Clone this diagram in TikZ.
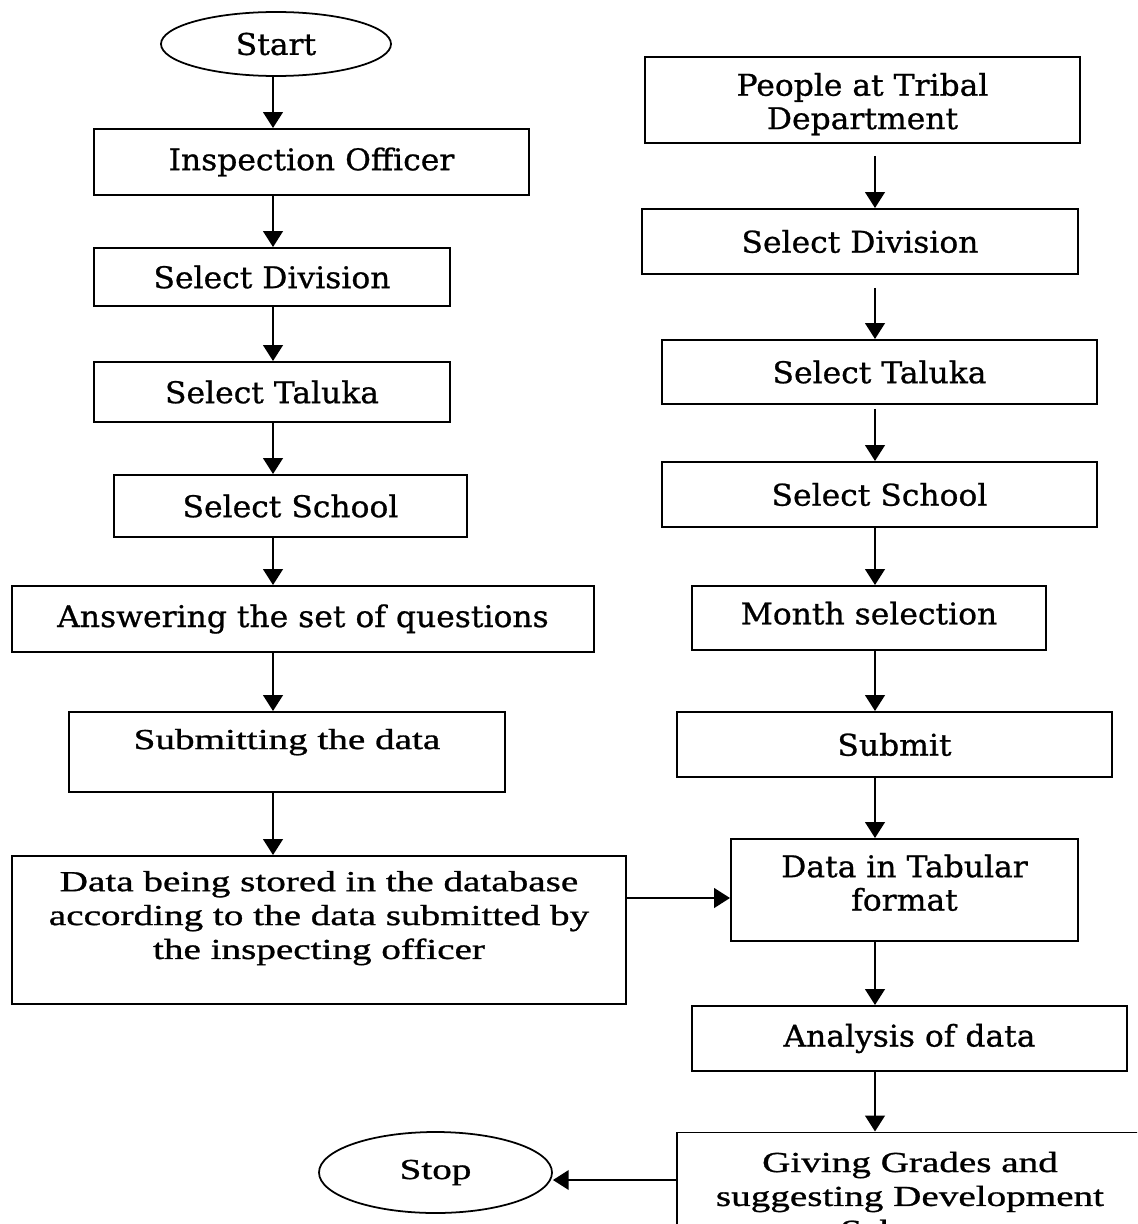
\documentclass[tikz,border=0pt]{standalone}
\usepackage{fontspec}
\usetikzlibrary{arrows.meta,shapes.geometric}
\newfontfamily\schfont{DejaVu Serif}[FakeStretch=1.05, FakeBold=0.8]
\newfontfamily\tmsfont{Liberation Serif}[FakeStretch=1.35, FakeBold=1.0]

\tikzset{
    box/.style={draw, line width=1.1pt, rectangle, align=center, inner sep=2pt},
    oval/.style={draw, line width=1pt, ellipse, inner sep=0pt},
    sch/.style={font=\schfont\fontsize{17}{19}\selectfont},
    tms/.style={font=\tmsfont\fontsize{16.5}{19.3}\selectfont},
    arr/.style={line width=1.5pt, -{Triangle[width=11pt,length=9pt]}}
}

\begin{document}
\begin{tikzpicture}
    \useasboundingbox (0,0) rectangle (22.74,-24.48);
    \clip (0,0) rectangle (22.74,-24.48);
    \coordinate (colL) at (5.46,0);
    \coordinate (colR) at (17.5,0);
    \coordinate (rowT) at (0,-17.96);
    \coordinate (rowS) at (0,-23.6);

    % inspection officer side
    \node[oval, sch, minimum width=4.6cm, minimum height=1.28cm] (start) at (5.52,-0.88) {Start};
    \node[box, sch, minimum width=8.7cm, minimum height=1.32cm] (insp) at (6.23,-3.24) {Inspection Officer};
    \node[box, sch, minimum width=7.12cm, minimum height=1.16cm] (ldiv) at (5.44,-5.54) {Select Division};
    \node[box, sch, minimum width=7.12cm, minimum height=1.2cm] (ltal) at (5.44,-7.84) {Select Taluka};
    \node[box, sch, minimum width=7.06cm, minimum height=1.24cm] (lsch) at (5.81,-10.12) {Select School};
    \node[box, sch, minimum width=11.64cm, minimum height=1.32cm] (ans) at (6.06,-12.38) {Answering the set of questions};
    \node[box, tms, text depth=0.52cm, minimum width=8.72cm, minimum height=1.6cm] (subm) at (5.74,-15.04) {Submitting the data};
    \node[box, tms, minimum width=12.28cm, minimum height=2.96cm] (store) at (6.38,-18.6)
        {Data being stored in the database\\according to the data submitted by\\the inspecting officer\rule[-0.6cm]{0pt}{0.1pt}};

    % tribal department side
    \node[box, sch, minimum width=8.7cm, minimum height=1.72cm] (ppl) at (17.25,-2.0) {\rule{0pt}{0.62cm}People at Tribal\\Department};
    \node[box, sch, minimum width=8.72cm, minimum height=1.3cm] (rdiv) at (17.2,-4.83) {Select Division};
    \node[box, sch, minimum width=8.7cm, minimum height=1.28cm] (rtal) at (17.59,-7.44) {Select Taluka};
    \node[box, sch, minimum width=8.7cm, minimum height=1.3cm] (rsch) at (17.59,-9.89) {Select School};
    \node[box, sch, text depth=0.2cm, minimum width=7.08cm, minimum height=1.28cm] (month) at (17.38,-12.36) {Month selection};
    \node[box, sch, minimum width=8.7cm, minimum height=1.3cm] (submit) at (17.89,-14.89) {Submit};
    \node[box, sch, minimum width=6.94cm, minimum height=2.04cm] (tab) at (18.09,-17.8) {Data in Tabular\\format\rule[-0.3cm]{0pt}{0.1pt}};
    \node[box, sch, minimum width=8.7cm, minimum height=1.3cm] (anal) at (18.19,-20.77) {Analysis of data};
    \node[box, tms, minimum width=9.32cm, minimum height=2.54cm] (grade) at (18.2,-23.92)
        {Giving Grades and\\suggesting Development\\Schemes};
    \node[oval, tms, minimum width=4.66cm, minimum height=1.62cm] (stop) at (8.71,-23.45) {Stop};

    % arrows, left
    \draw[arr] (start.south -| colL) -- (insp.north -| colL);
    \draw[arr] (insp.south -| colL) -- (ldiv.north -| colL);
    \draw[arr] (ldiv.south -| colL) -- (ltal.north -| colL);
    \draw[arr] (ltal.south -| colL) -- (lsch.north -| colL);
    \draw[arr] (lsch.south -| colL) -- (ans.north -| colL);
    \draw[arr] (ans.south -| colL) -- (subm.north -| colL);
    \draw[arr] (subm.south -| colL) -- (store.north -| colL);
    \draw[arr] (store.east |- rowT) -- (tab.west |- rowT);

    % arrows, right
    \draw[arr, shorten <=0.24cm] (ppl.south -| colR) -- (rdiv.north -| colR);
    \draw[arr, shorten <=0.26cm] (rdiv.south -| colR) -- (rtal.north -| colR);
    \draw[arr, shorten <=0.08cm] (rtal.south -| colR) -- (rsch.north -| colR);
    \draw[arr] (rsch.south -| colR) -- (month.north -| colR);
    \draw[arr] (month.south -| colR) -- (submit.north -| colR);
    \draw[arr] (submit.south -| colR) -- (tab.north -| colR);
    \draw[arr] (tab.south -| colR) -- (anal.north -| colR);
    \draw[arr] (anal.south -| colR) -- (grade.north -| colR);
    \draw[arr] (grade.west |- rowS) -- (stop.east |- rowS);
\end{tikzpicture}
\end{document}
